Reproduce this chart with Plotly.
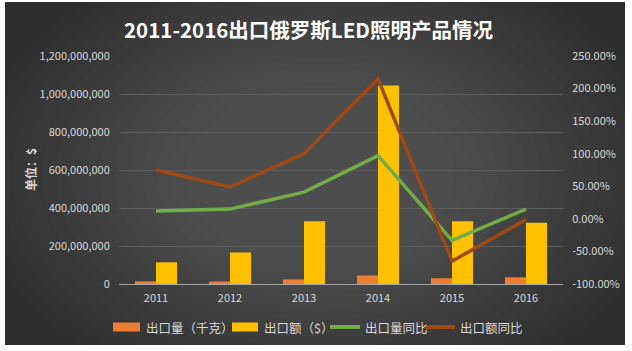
import plotly.graph_objects as go

years = ["2011", "2012", "2013", "2014", "2015", "2016"]
qty_kg = [14e6, 13e6, 24e6, 45e6, 30e6, 35e6]            # 出口量（千克）
value_usd = [114e6, 166e6, 330e6, 1045e6, 330e6, 322e6]  # 出口额（$）
qty_yoy = [0.12, 0.15, 0.41, 0.97, -0.33, 0.15]           # 出口量同比
value_yoy = [0.75, 0.49, 1.00, 2.15, -0.65, -0.01]        # 出口额同比

series_names = ["出口量（千克）", "出口额（$）", "出口量同比", "出口额同比"]
series_colors = ["#ED7D31", "#FFC000", "#70AD47", "#9E4A17"]

left_ticks = [0, 200e6, 400e6, 600e6, 800e6, 1000e6, 1200e6]
left_labels = ["0", "200,000,000", "400,000,000", "600,000,000", "800,000,000",
               "1,000,000,000", "1,200,000,000"]
right_ticks = [-1.0, -0.5, 0.0, 0.5, 1.0, 1.5, 2.0, 2.5]
right_labels = ["-100.00%", "-50.00%", "0.00%", "50.00%", "100.00%",
                "150.00%", "200.00%", "250.00%"]

FONT = "Noto Sans CJK SC"
W, H = 632, 351
L, R, T, B = 119, 69, 56, 67
pw, ph = W - L - R, H - T - B

def px(x):
    return (x - L) / pw

def py(y):
    return (H - B - y) / ph

fig = go.Figure()
fig.add_trace(go.Bar(x=years, y=qty_kg, name=series_names[0],
                     marker=dict(color=series_colors[0], line=dict(width=0))))
fig.add_trace(go.Bar(x=years, y=value_usd, name=series_names[1],
                     marker=dict(color=series_colors[1], line=dict(width=0))))
fig.add_trace(go.Scatter(x=years, y=qty_yoy, name=series_names[2], yaxis="y2",
                         mode="lines", line=dict(color=series_colors[2], width=3.5)))
fig.add_trace(go.Scatter(x=years, y=value_yoy, name=series_names[3], yaxis="y2",
                         mode="lines", line=dict(color=series_colors[3], width=3.5)))

shapes = [dict(type="rect", xref="paper", yref="paper",
               x0=px(5), x1=px(625), y0=py(345), y1=py(2),
               fillcolor="#2E2E2E", line=dict(width=0), layer="below")]
# soft radial glow
cx, cy = 320, 175
n = 16
for i in range(n):
    f = 1 - i / n
    rx, ry = 120 + 230 * f, 80 + 150 * f
    shapes.append(dict(type="circle", xref="paper", yref="paper",
                       x0=px(cx - rx), x1=px(cx + rx), y0=py(cy + ry), y1=py(cy - ry),
                       fillcolor="rgba(255,255,255,0.011)", line=dict(width=0), layer="below"))

# custom legend (swatches as shapes, labels as text)
legend_y = 327
sw = [(113, 140, "rect"), (232, 258, "rect"), (330, 360, "line"), (425, 455, "line")]
text_x = [144, 262, 363, 458]
annotations = []
for (x0, x1, kind), col, name, tx in zip(sw, series_colors, series_names, text_x):
    if kind == "rect":
        shapes.append(dict(type="rect", xref="paper", yref="paper",
                           x0=px(x0), x1=px(x1), y0=py(legend_y + 4.5), y1=py(legend_y - 4.5),
                           fillcolor=col, line=dict(width=0)))
    else:
        shapes.append(dict(type="line", xref="paper", yref="paper",
                           x0=px(x0), x1=px(x1), y0=py(legend_y), y1=py(legend_y),
                           line=dict(color=col, width=4)))
    annotations.append(dict(text=name, xref="paper", yref="paper", x=px(tx), y=py(legend_y),
                            xanchor="left", yanchor="middle", showarrow=False,
                            font=dict(size=12.5, color="#D9D9D9", family=FONT)))

annotations += [
    dict(text="<b>2011-2016出口俄罗斯LED照明产品情况</b>", xref="paper", yref="paper",
         x=px(308), y=py(29), xanchor="center", yanchor="middle", showarrow=False,
         font=dict(size=20.5, color="white", family=FONT)),
    dict(text="<b>单位：$</b>", xref="paper", yref="paper", x=px(30), y=py(170),
         xanchor="center", yanchor="middle", showarrow=False, textangle=-90,
         font=dict(size=12, color="#D9D9D9", family=FONT)),
]

fig.update_layout(
    width=W, height=H,
    margin=dict(l=L, r=R, t=T, b=B),
    paper_bgcolor="white",
    plot_bgcolor="rgba(0,0,0,0)",
    barmode="group", bargap=0.43, bargroupgap=0,
    font=dict(family=FONT, color="#D9D9D9", size=11),
    shapes=shapes,
    showlegend=False,
    xaxis=dict(showgrid=False, showline=True, linecolor="#A6A6A6", linewidth=1,
               tickfont=dict(size=11, color="#D9D9D9"), ticks="", ticklabelstandoff=4),
    yaxis=dict(range=[0, 1.2e9], tickvals=left_ticks, ticktext=left_labels,
               showgrid=True, gridcolor="#5E5E5E", gridwidth=1, zeroline=False,
               tickfont=dict(size=11, color="#D9D9D9"), ticks="outside",
               ticklen=6, tickcolor="rgba(0,0,0,0)"),
    yaxis2=dict(range=[-1.0, 2.5], tickvals=right_ticks, ticktext=right_labels,
                overlaying="y", side="right", showgrid=False, zeroline=False,
                tickfont=dict(size=11, color="#D9D9D9"), ticks="outside",
                ticklen=6, tickcolor="rgba(0,0,0,0)"),
    annotations=annotations,
)

fig.write_html("out.html")
